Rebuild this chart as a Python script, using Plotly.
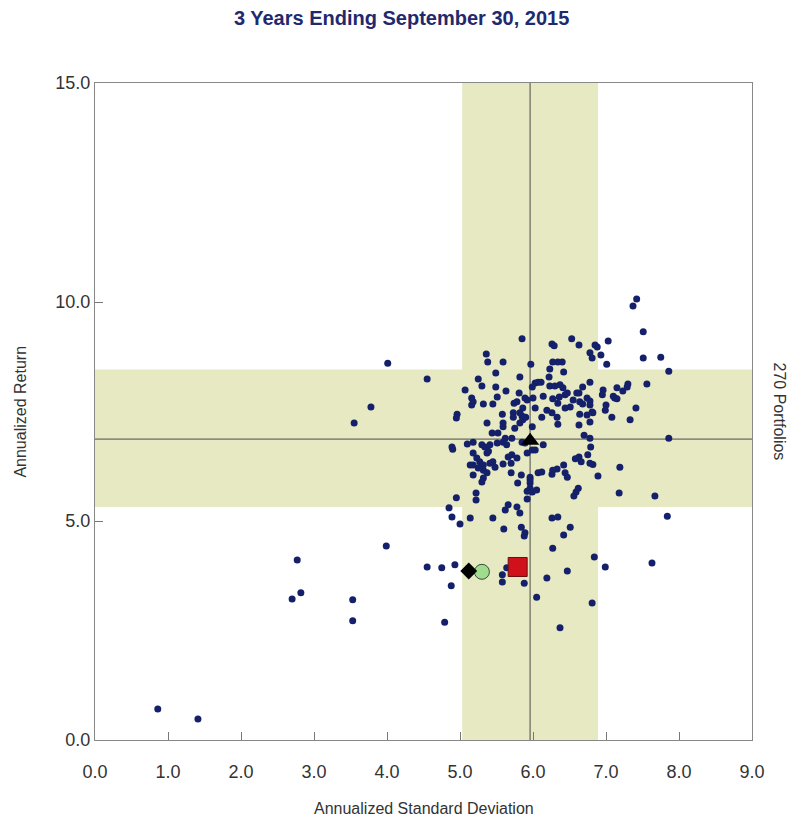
import plotly.graph_objects as go

# ---- Data (annualized standard deviation, annualized return) ----
sd_values = [
    0.86, 1.41, 2.77, 2.82, 2.70, 3.53, 3.53, 3.99, 3.55, 3.78, 4.01, 4.55, 4.55, 4.75, 4.93, 4.88,
    4.79, 4.85, 4.89, 4.95, 4.89, 4.90, 4.96, 4.95, 5.07, 5.00,
    5.85, 5.36, 5.38, 5.59, 5.97, 5.49, 5.82, 5.25, 5.30, 5.49, 5.63, 5.81, 6.03, 6.07, 5.99, 5.16,
    5.18, 5.16, 5.32, 5.45, 5.51, 5.74, 5.78, 5.89, 5.92, 6.00, 6.03, 5.86, 5.82, 5.73, 5.73, 5.58,
    5.90, 5.85,
    6.26, 6.29, 6.53, 6.63, 6.85, 6.88, 6.78, 6.81, 6.93, 7.03, 7.01, 6.27, 6.34, 6.40, 6.42, 6.23,
    6.22, 6.11, 6.23, 6.30, 6.37, 6.41, 6.78, 6.68, 6.44, 6.47, 6.60, 6.63, 6.36, 6.27, 6.14, 6.55,
    6.64, 6.74, 6.78, 6.68, 6.78, 6.96, 6.95, 7.15, 7.30, 7.29, 7.23, 7.12, 7.10, 7.00, 7.41, 6.44,
    6.51, 6.34, 6.19, 6.26, 6.33, 6.64, 6.74, 6.81, 6.82, 6.99, 7.08, 7.33, 6.12, 7.15,
    5.10, 5.18, 5.18, 5.30, 5.34, 5.41, 5.37, 5.39, 5.44, 5.52, 5.51, 5.59, 5.64, 5.62, 5.71, 5.59,
    5.59, 5.37, 5.75, 5.82, 5.86, 5.99, 5.85, 5.89, 5.99, 5.92, 6.03, 5.66, 5.71, 5.78, 5.23, 5.27,
    5.14, 5.18, 5.32, 5.41, 5.45, 5.48, 5.59, 5.70, 5.25, 5.32, 5.37, 5.32, 5.30, 5.18, 5.70, 5.84,
    5.79, 5.96, 5.96, 5.96, 5.96, 5.92, 5.99, 6.07, 6.05, 5.22, 5.22, 5.92, 5.66, 5.78, 5.62, 5.82,
    5.14, 5.45,
    6.34, 6.63, 6.78, 6.70, 6.78, 6.14, 6.79, 6.75, 6.78, 6.82, 6.58, 6.63, 6.66, 6.42, 6.12, 6.27,
    6.33, 6.26, 6.44, 6.47, 6.89, 7.19, 6.62, 6.59, 6.56, 7.18, 6.26, 6.34,
    7.42, 7.37, 7.51, 7.51, 7.75, 7.86, 7.56, 7.86, 7.67, 7.84, 7.63,
    5.60, 5.84, 5.89, 5.88, 6.51, 6.42, 6.27, 6.84, 6.99, 6.47, 6.19, 5.58, 5.58, 5.88, 6.05, 6.81,
    6.37, 5.64,
]
return_values = [
    0.71, 0.48, 4.11, 3.36, 3.22, 3.20, 2.72, 4.43, 7.24, 7.60, 8.60, 8.24, 3.95, 3.93, 4.00, 3.52,
    2.69, 5.30, 5.09, 5.53, 6.69, 6.64, 7.44, 7.35, 7.99, 4.93,
    9.16, 8.81, 8.63, 8.63, 8.58, 8.38, 8.29, 8.24, 8.08, 8.06, 7.97, 7.92, 8.15, 8.17, 8.06, 7.81,
    7.72, 7.65, 7.67, 7.67, 7.83, 7.69, 7.72, 7.81, 7.76, 7.81, 7.58, 7.58, 7.47, 7.47, 7.37, 7.44,
    7.37, 7.40,
    9.04, 9.00, 9.16, 9.02, 9.02, 8.97, 8.84, 8.72, 8.79, 9.11, 8.58, 8.63, 8.63, 8.63, 8.40, 8.47,
    8.29, 8.17, 8.08, 8.08, 8.11, 8.04, 8.17, 8.06, 7.88, 7.92, 7.92, 7.92, 7.83, 7.79, 7.85, 7.76,
    7.72, 7.81, 7.74, 7.67, 7.65, 7.99, 7.88, 8.04, 8.13, 8.06, 7.97, 7.81, 7.85, 7.65, 7.58, 7.58,
    7.60, 7.69, 7.53, 7.47, 7.37, 7.44, 7.42, 7.49, 7.47, 7.53, 7.37, 7.31, 7.37, 7.79,
    6.76, 6.80, 6.55, 6.74, 6.69, 6.74, 6.55, 6.59, 7.01, 7.01, 6.78, 6.80, 6.74, 6.89, 6.89, 7.15,
    7.24, 7.24, 7.12, 7.24, 7.31, 7.15, 6.80, 6.78, 6.62, 6.55, 6.62, 6.46, 6.51, 6.44, 6.44, 6.35,
    6.28, 6.28, 6.28, 6.32, 6.35, 6.23, 6.30, 6.32, 6.21, 6.16, 6.10, 5.98, 5.89, 6.05, 6.10, 6.05,
    5.87, 6.00, 5.94, 5.87, 5.75, 5.68, 5.66, 6.10, 5.71, 5.64, 5.48, 5.50, 5.37, 5.32, 5.25, 5.18,
    5.07, 5.07,
    7.21, 7.19, 7.26, 6.96, 6.89, 6.74, 6.69, 6.51, 6.32, 6.29, 6.42, 6.46, 6.35, 6.28, 6.12, 6.16,
    6.19, 6.07, 6.10, 6.00, 6.03, 6.23, 5.75, 5.66, 5.57, 5.64, 5.07, 5.09,
    10.07, 9.91, 9.32, 8.72, 8.74, 8.42, 8.13, 6.89, 5.57, 5.11, 4.04,
    4.82, 4.86, 4.73, 4.66, 4.86, 4.68, 4.38, 4.18, 3.95, 3.86, 3.70, 3.77, 3.61, 3.58, 3.26, 3.13,
    2.56, 3.93,
]

# Highlighted points
median_point = (5.96, 6.83)      # black triangle
square_point = (5.79, 3.95)      # red square
circle_point = (5.30, 3.84)      # green circle
diamond_point = (5.12, 3.86)     # black diamond

# Interquartile bands and medians
sd_band = (5.03, 6.89)
ret_band = (5.32, 8.46)
sd_median = 5.96
ret_median = 6.87

x_ticks = [0, 1, 2, 3, 4, 5, 6, 7, 8, 9]
y_ticks = [0, 5, 10, 15]

FONT = "Liberation Sans Narrow, Arial Narrow, Liberation Sans, Arial, sans-serif"
BAND = "#e7e9c3"
TXT = "#333333"

fig = go.Figure()

fig.add_trace(go.Scatter(
    x=sd_values, y=return_values, mode="markers",
    marker=dict(size=7, color="#15206a", line=dict(width=0)),
    hoverinfo="x+y", showlegend=False,
))
fig.add_trace(go.Scatter(
    x=[median_point[0]], y=[median_point[1]], mode="markers",
    marker=dict(symbol="triangle-up", size=16, color="#000000"), showlegend=False,
))
fig.add_trace(go.Scatter(
    x=[square_point[0]], y=[square_point[1]], mode="markers",
    marker=dict(symbol="square", size=19, color="#d0101a", line=dict(width=1, color="#6a1010")),
    showlegend=False,
))
fig.add_trace(go.Scatter(
    x=[circle_point[0]], y=[circle_point[1]], mode="markers",
    marker=dict(symbol="circle", size=15, color="#9fdc8e", line=dict(width=1, color="#3a4a3a")),
    showlegend=False,
))
fig.add_trace(go.Scatter(
    x=[diamond_point[0]], y=[diamond_point[1]], mode="markers",
    marker=dict(symbol="diamond", size=13, color="#000000"), showlegend=False,
))

shapes = [
    dict(type="rect", xref="x", yref="y", x0=sd_band[0], x1=sd_band[1], y0=0, y1=15,
         fillcolor=BAND, line=dict(width=0), layer="below"),
    dict(type="rect", xref="x", yref="y", x0=0, x1=9, y0=ret_band[0], y1=ret_band[1],
         fillcolor=BAND, line=dict(width=0), layer="below"),
    dict(type="line", xref="x", yref="y", x0=sd_median, x1=sd_median, y0=0, y1=15,
         line=dict(color="#4a4a4a", width=1), layer="below"),
    dict(type="line", xref="x", yref="y", x0=0, x1=9, y0=ret_median, y1=ret_median,
         line=dict(color="#4a4a4a", width=1), layer="below"),
]

fig.update_layout(
    width=781, height=811,
    margin=dict(l=87, r=37, t=75, b=79),
    paper_bgcolor="white", plot_bgcolor="white",
    shapes=shapes,
    font=dict(family=FONT, size=16, color=TXT),
    title=dict(text="<b>3 Years Ending September 30, 2015</b>", x=0.504, xanchor="center",
               y=0.9877, yanchor="middle", font=dict(family=FONT, size=20, color="#1f2a6e")),
    annotations=[
        dict(text="Annualized Standard Deviation", xref="paper", yref="paper", x=0.5, y=-0.104,
             xanchor="center", yanchor="middle", showarrow=False,
             font=dict(family=FONT, size=16, color=TXT)),
        dict(text="Annualized Return", xref="paper", yref="paper", x=-0.114, y=0.5,
             xanchor="center", yanchor="middle", textangle=-90, showarrow=False,
             font=dict(family=FONT, size=16, color=TXT)),
        dict(text="270 Portfolios", xref="paper", yref="paper", x=1.0426, y=0.5,
             xanchor="center", yanchor="middle", textangle=90, showarrow=False,
             font=dict(family=FONT, size=16, color=TXT)),
    ],
)
fig.update_xaxes(
    range=[0, 9], tickvals=x_ticks, tickformat=".1f", ticks="inside", ticklen=8,
    tickcolor="#777777", showline=True, mirror=True, linecolor="#888888", linewidth=1,
    showgrid=False, zeroline=False, ticklabelstandoff=15,
    tickfont=dict(family=FONT, size=18, color=TXT),
)
fig.update_yaxes(
    range=[0, 15], tickvals=y_ticks, tickformat=".1f", ticks="inside", ticklen=8,
    tickcolor="#777777", showline=True, mirror=True, linecolor="#888888", linewidth=1,
    showgrid=False, zeroline=False, ticklabelstandoff=0,
    tickfont=dict(family=FONT, size=18, color=TXT),
)

fig.write_html("out.html")
